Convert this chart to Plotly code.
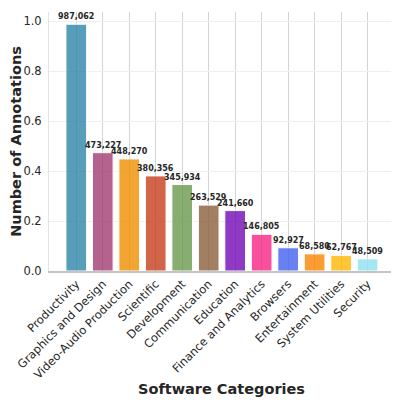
import plotly.graph_objects as go

categories = ["Productivity", "Graphics and Design", "Video-Audio Production",
              "Scientific", "Development", "Communication", "Education",
              "Finance and Analytics", "Browsers", "Entertainment",
              "System Utilities", "Security"]
annotations_count = [987062, 473227, 448270, 380356, 345934, 263529,
                     241660, 146805, 92927, 68580, 62767, 48509]
bar_colors = ["#2E86AB", "#A23B72", "#F18F01", "#C73E1D", "#6A994E", "#8B5E3C",
              "#7209B7", "#F72585", "#4361EE", "#FB8500", "#FFB703", "#90E0EF"]

FONT = "DejaVu Sans"
TEXT = "#262626"

fig = go.Figure(go.Bar(
    x=categories, y=annotations_count,
    marker=dict(color=bar_colors, opacity=0.8,
                line=dict(color="white", width=1)),
    hoverinfo="x+y", showlegend=False,
))

# value labels above each bar
for cat, val in zip(categories, annotations_count):
    fig.add_annotation(x=cat, y=val, text=f"<b>{val:,}</b>", showarrow=False,
                       yanchor="bottom", yshift=1,
                       font=dict(family=FONT, size=8, color=TEXT))

fig.update_xaxes(
    range=[-1.03, 11.96], automargin=False,
    showgrid=True, gridcolor="#d4d4d4", gridwidth=1,
    showline=True, linecolor="#c4c4c4", linewidth=1.5,
    tickangle=-45, tickfont=dict(family=FONT, size=11.5, color=TEXT),
    ticks="",
)
fig.update_yaxes(
    range=[0, 1.036e6], automargin=False,
    tickvals=[0, 2e5, 4e5, 6e5, 8e5, 1e6],
    ticktext=["0.0", "0.2", "0.4", "0.6", "0.8", "1.0"],
    showgrid=True, gridcolor="#efefef", gridwidth=1, zeroline=False,
    showline=True, linecolor="#e3e3e3", linewidth=1,
    ticks="", ticklabelstandoff=4,
    tickfont=dict(family=FONT, size=11.5, color=TEXT),
    title=dict(text="<b>Number of Annotations</b>",
               font=dict(family=FONT, size=14.5, color=TEXT)),
)

fig.add_annotation(text="1e6", xref="paper", yref="paper", x=0, y=1.0,
                   xanchor="center", yanchor="bottom", xshift=-2, yshift=1,
                   showarrow=False, font=dict(family=FONT, size=6, color=TEXT))
fig.add_annotation(text="<b>Software Categories</b>", xref="paper", yref="paper",
                   x=0.5, y=-0.455, xanchor="center", yanchor="middle",
                   showarrow=False, font=dict(family=FONT, size=14.5, color=TEXT))

# the page body adds an 8px offset, so the figure is 8px smaller each way
fig.update_layout(
    width=391, height=395,
    margin=dict(l=41, r=6, t=4, b=132),
    paper_bgcolor="white", plot_bgcolor="white",
    bargap=0.22,
)

fig.write_html("out.html")
